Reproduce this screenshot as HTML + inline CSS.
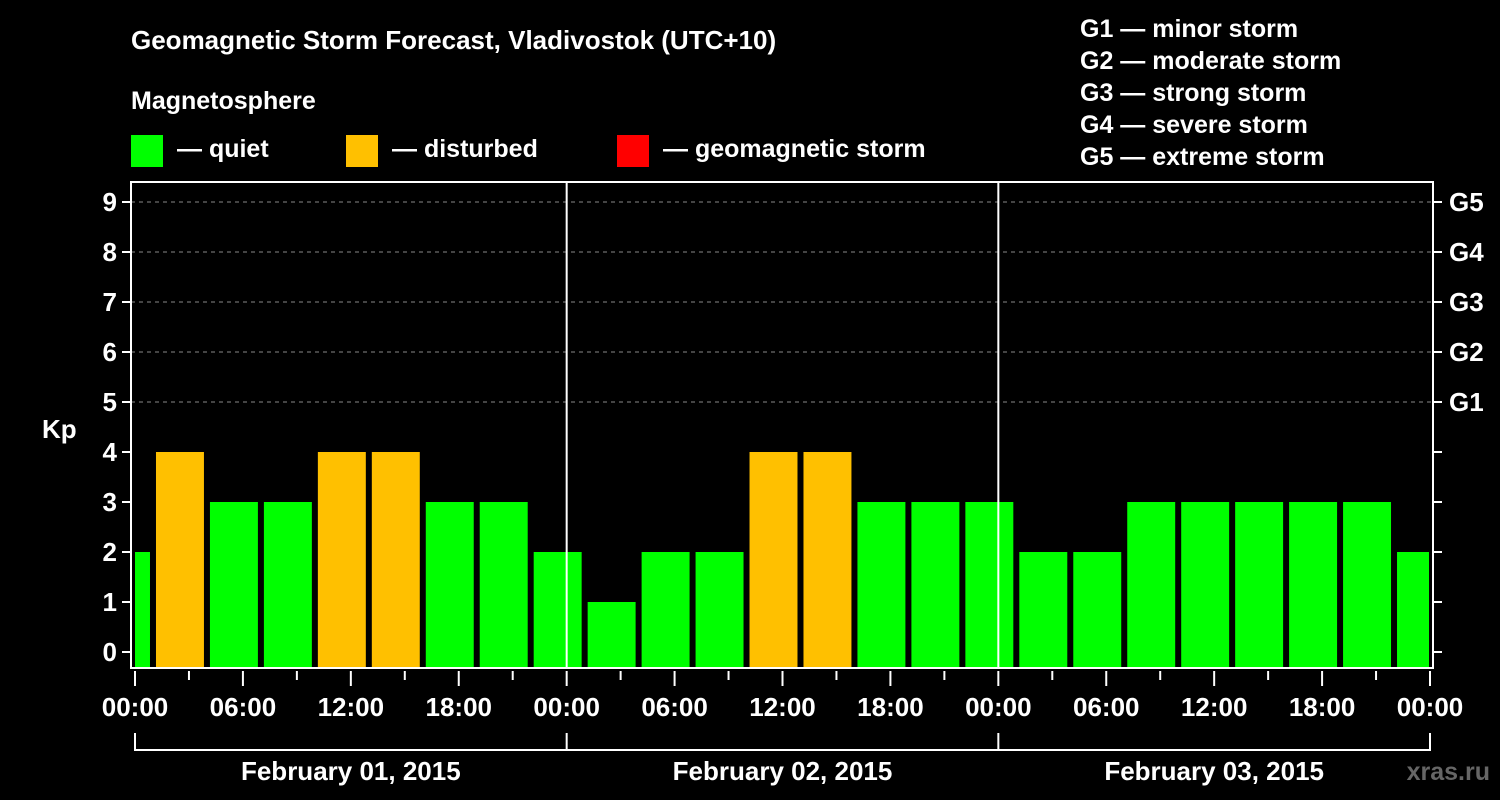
<!DOCTYPE html>
<html><head><meta charset="utf-8"><style>
html,body{margin:0;padding:0;background:#000;}
svg{display:block;font-family:"Liberation Sans",Arial,sans-serif;font-weight:bold;}
</style></head><body>
<svg id="chart" width="1500" height="800" viewBox="0 0 1500 800">
<rect x="0" y="0" width="1500" height="800" fill="#000"/>
<text x="131" y="49" fill="#fff" font-size="26">Geomagnetic Storm Forecast, Vladivostok (UTC+10)</text>
<text x="131" y="109" fill="#fff" font-size="25">Magnetosphere</text>
<g><rect x="131" y="135" width="32" height="32" fill="#00ff00"/><text x="177" y="157" fill="#fff" font-size="25">— quiet</text></g>
<g><rect x="346" y="135" width="32" height="32" fill="#ffc000"/><text x="392" y="157" fill="#fff" font-size="25">— disturbed</text></g>
<g><rect x="617" y="135" width="32" height="32" fill="#ff0000"/><text x="663" y="157" fill="#fff" font-size="25">— geomagnetic storm</text></g>
<g fill="#fff" font-size="25">
<text x="1080" y="37">G1 — minor storm</text>
<text x="1080" y="69">G2 — moderate storm</text>
<text x="1080" y="101">G3 — strong storm</text>
<text x="1080" y="133">G4 — severe storm</text>
<text x="1080" y="165">G5 — extreme storm</text>
</g>
<text x="42" y="438" fill="#fff" font-size="26">Kp</text>
<text x="1490" y="780" fill="#666" font-size="25" text-anchor="end">xras.ru</text>
<g id="grid"></g><g id="bars"></g><g id="axes"></g>
</svg>
<script>
const kpValues = [2,4,3,3,4,4,3,3,2,1,2,2,4,4,3,3,3,2,2,3,3,3,3,3,2];
const yTicks = [0,1,2,3,4,5,6,7,8,9];
const gLabels = ["G1","G2","G3","G4","G5"];
const xTickLabels = ["00:00","06:00","12:00","18:00","00:00","06:00","12:00","18:00","00:00","06:00","12:00","18:00","00:00"];
const dayLabels = ["February 01, 2015","February 02, 2015","February 03, 2015"];

const NS="http://www.w3.org/2000/svg";
const PL=131, PR=1433, PT=182, PB=668;
const X0=135, X1=1430, HOURS=72;
const xh = h => X0 + h*(X1-X0)/HOURS;
const yv = v => 652 - v*50;
function mk(tag, attrs, parent){const e=document.createElementNS(NS,tag);for(const k in attrs)e.setAttribute(k,attrs[k]);parent.appendChild(e);return e;}
const grid=document.getElementById('grid'), bars=document.getElementById('bars'), axes=document.getElementById('axes');

yTicks.forEach(v=>{
  if(v>=5){
    const l=mk('line',{x1:PL,x2:PR,y1:yv(v),y2:yv(v),stroke:'#888','stroke-width':1,'stroke-dasharray':'4,4'},grid);
    
    
  }
  const t=mk('line',{x1:PL-9,x2:PL,y1:yv(v),y2:yv(v),stroke:'#fff','stroke-width':2},axes);
  
  
  const lb=mk('text',{x:PL-14,y:yv(v)+9,fill:'#fff','font-size':26,'text-anchor':'end'},axes);
  lb.textContent=v;
  
  
  const rt=mk('line',{x1:PR,x2:PR+9,y1:yv(v),y2:yv(v),stroke:'#fff','stroke-width':2},axes);
  
  
});
gLabels.forEach((g,i)=>{
  const lb=mk('text',{x:PR+16,y:yv(5+i)+9,fill:'#fff','font-size':26},axes);
  lb.textContent=g;
  
  
});

const clip=mk('clipPath',{id:'pc'},document.getElementById('chart'));
mk('rect',{x:PL+4,y:PT,width:(PR-4)-(PL+4),height:PB-PT-1},clip);
bars.setAttribute('clip-path','url(#pc)');
const step=3*(X1-X0)/HOURS, bw=step-6;
kpValues.forEach((v,i)=>{
  const c=xh(i*3-0.5);
  const col=v>=5?'#ff0000':(v>=4?'#ffc000':'#00ff00');
  const r=mk('rect',{x:c-bw/2,y:yv(v),width:bw,height:PB-1-yv(v),fill:col},bars);
  
  
});

[1,2].forEach(d=>{
  const l=mk('line',{x1:xh(d*24),x2:xh(d*24),y1:PT,y2:PB,stroke:'#fff','stroke-width':2},axes);
  
  
});
const fr=mk('rect',{x:PL,y:PT,width:PR-PL,height:PB-PT,fill:'none',stroke:'#fff','stroke-width':2},axes);



for(let h=0;h<=HOURS;h+=3){
  const major=h%6===0;
  const t=mk('line',{x1:xh(h),x2:xh(h),y1:PB+3,y2:PB+(major?18:12),stroke:'#fff','stroke-width':2},axes);
  
  
}
xTickLabels.forEach((s,i)=>{
  const lb=mk('text',{x:xh(i*6),y:716,fill:'#fff','font-size':26,'text-anchor':'middle'},axes);
  lb.textContent=s;
  
  
});
const br=mk('path',{d:`M${xh(0)},733V750H${xh(72)}V733`,fill:'none',stroke:'#fff','stroke-width':2},axes);


[1,2].forEach(d=>{
  const l=mk('line',{x1:xh(d*24),x2:xh(d*24),y1:733,y2:750,stroke:'#fff','stroke-width':2},axes);
  
  
});
dayLabels.forEach((s,i)=>{
  const lb=mk('text',{x:xh(i*24+12),y:780,fill:'#fff','font-size':26,'text-anchor':'middle'},axes);
  lb.textContent=s;
  
  
});
</script>
</body></html>
